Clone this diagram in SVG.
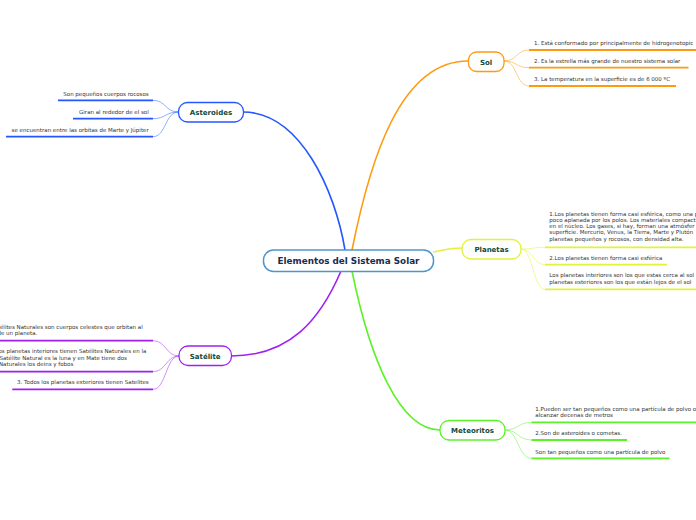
<svg xmlns="http://www.w3.org/2000/svg" width="696" height="520" viewBox="0 0 696 520">
<style>
.bg{fill:#fff}
.box{fill:#fff;stroke-width:1.3}
.lbl{font-family:"DejaVu Sans",Verdana,sans-serif;font-weight:bold;font-size:7px;fill:#0d4a3a;text-anchor:middle}
.main{font-family:"DejaVu Sans",Verdana,sans-serif;font-weight:bold;font-size:8.8px;fill:#1a2b50;text-anchor:middle}
.t{font-family:"DejaVu Sans",Verdana,sans-serif;font-size:5.5px;fill:#333}
.e{text-anchor:end}
.c{fill:none;stroke-width:1.6}
.s{fill:none;stroke-width:0.9;stroke-opacity:0.55}
.u{fill:none;stroke-width:1.8}
.blue{stroke:#2457ff}.orange{stroke:#ff9a0f}.yellow{stroke:#e2f23a}.green{stroke:#5cf22a}.purple{stroke:#a020f0}
</style>
<rect class="bg" x="0" y="0" width="696" height="520"/>
<g id="connectors">
<path class="c blue" d="M345,250 C335,190 300,112 243,112"/>
<path class="c orange" d="M352,250 C370,160 400,61 468,61"/>
<path class="c yellow" d="M433,252 C445,250 450,248 462,248"/>
<path class="c green" d="M352,271 C370,360 400,430 440,430"/>
<path class="c purple" d="M341,271 C320,320 290,356 231,356"/>
</g>
<g id="center">
<rect x="263.5" y="250" width="170" height="21.5" rx="10" fill="#fff" stroke="#4f95cc" stroke-width="1.5"/>
<text class="main" x="348.5" y="264">Elementos del Sistema Solar</text>
</g>
<g id="sol">
<rect class="box orange" x="468.5" y="52" width="35.5" height="19.5" rx="8"/>
<text class="lbl" x="486" y="64.5">Sol</text>
<path class="s orange" d="M504,61 C517,61 516,50 529,50"/>
<path class="s orange" d="M504,61 C517,61 516,67.7 529,67.7"/>
<path class="s orange" d="M504,61 C517,61 516,86 529,86"/>
<path class="u orange" d="M529,50 H696"/>
<path class="u orange" d="M529,67.7 H688.5"/>
<path class="u orange" d="M529,86 H676"/>
<text class="t" x="534" y="45">1. Está conformado por principalmente de hidrogenotopic</text>
<text class="t" x="534" y="62.7">2.  Es la estrella más grande de nuestro sistema solar</text>
<text class="t" x="534" y="80.7">3. La temperatura en la superficie es de 6 000 ºC</text>
</g>
<g id="asteroides">
<rect class="box blue" x="178.5" y="102.5" width="65" height="19.5" rx="9"/>
<text class="lbl" x="211" y="115">Asteroides</text>
<path class="s blue" d="M178.5,112 C165,112 166,100.3 153,100.3"/>
<path class="s blue" d="M178.5,112 C165,112 166,118.7 153,118.7"/>
<path class="s blue" d="M178.5,112 C165,112 166,136.7 153,136.7"/>
<path class="u blue" d="M58,100.3 H153"/>
<path class="u blue" d="M73,118.7 H153"/>
<path class="u blue" d="M6,136.7 H153"/>
<text class="t e" x="148.7" y="95.7">Son pequeños cuerpos rocosos</text>
<text class="t e" x="148.7" y="113.7">Giran al rededor de el sol</text>
<text class="t e" x="148.7" y="132">se encuentran entre las orbitas de Marte y Júpiter</text>
</g>
<g id="planetas">
<rect class="box yellow" x="462" y="239.5" width="59" height="19.5" rx="9"/>
<text class="lbl" x="491.5" y="251.8">Planetas</text>
<path class="s yellow" d="M521,249 C533,249 533,247.3 545,247.3"/>
<path class="s yellow" d="M521,249 C533,249 533,264.7 545,264.7"/>
<path class="s yellow" d="M521,249 C533,249 533,289.3 545,289.3"/>
<path class="u yellow" d="M545,247.3 H696"/>
<path class="u yellow" d="M545,264.7 H667"/>
<path class="u yellow" d="M545,289.3 H696"/>
<text class="t" x="549.3" y="215.5">1.Los planetas tienen forma casi esférica, como una p</text>
<text class="t" x="549.3" y="221.8">poco aplanada por los polos. Los materiales compact</text>
<text class="t" x="549.3" y="228.1">en el núcleo. Los gases, si hay, forman una atmósfer</text>
<text class="t" x="549.3" y="234.4">superficie. Mercurio, Venus, la Tierra, Marte y Plutón</text>
<text class="t" x="549.3" y="240.9">planetas pequeños y rocosos, con densidad alta.</text>
<text class="t" x="549.3" y="260.3">2.Los planetas tienen forma casi esférica</text>
<text class="t" x="549.3" y="277.3">Los planetas interiores son los que estas cerca al sol</text>
<text class="t" x="549.3" y="283.6">planetas esteriores son los que están lejos de el sol</text>
</g>
<g id="meteoritos">
<rect class="box green" x="440" y="420.5" width="65" height="19.5" rx="9"/>
<text class="lbl" x="472.5" y="433">Meteoritos</text>
<path class="s green" d="M505,430 C518,430 518,422.3 531.5,422.3"/>
<path class="s green" d="M505,430 C518,430 518,440 531.5,440"/>
<path class="s green" d="M505,430 C518,430 518,458.3 531.5,458.3"/>
<path class="u green" d="M531.5,422.3 H696"/>
<path class="u green" d="M531.5,440 H627"/>
<path class="u green" d="M531.5,458.3 H669.5"/>
<text class="t" x="535.3" y="410.7">1.Pueden ser tan pequeños como una partícula de polvo o</text>
<text class="t" x="535.3" y="417">alcanzar decenas de metros</text>
<text class="t" x="535.3" y="435.3">2.Son de asteroides o cometas.</text>
<text class="t" x="535.3" y="453.7">Son tan pequeños como una partícula de polvo</text>
</g>
<g id="satelite">
<rect class="box purple" x="179" y="346" width="52.5" height="19.5" rx="9"/>
<text class="lbl" x="205.2" y="358.5">Satélite</text>
<path class="s purple" d="M179,356 C166,356 166,340.7 153,340.7"/>
<path class="s purple" d="M179,356 C166,356 166,371.7 153,371.7"/>
<path class="s purple" d="M179,356 C166,356 166,389.3 153,389.3"/>
<path class="u purple" d="M0,340.7 H153"/>
<path class="u purple" d="M0,371.7 H153"/>
<path class="u purple" d="M12.3,389.3 H153"/>
<text class="t e" x="142.7" y="329">élites Naturales son cuerpos  celestes que orbitan al</text>
<text class="t" x="-2.5" y="335.3">de un planeta.</text>
<text class="t e" x="146.3" y="353.3">os planetas interiores tienen Satélites Naturales en la</text>
<text class="t" x="-0.5" y="359.7">Satélite Natural es  la luna y en Mate tiene dos</text>
<text class="t" x="-1" y="366">Naturales los deins y fobos</text>
<text class="t e" x="148.7" y="383.7">3. Todos los planetas exteriores tienen Satelites</text>
</g>
</svg>
